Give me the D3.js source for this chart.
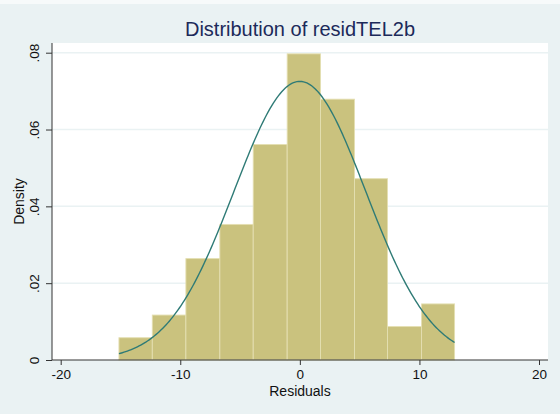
<!DOCTYPE html>
<html>
<head>
<meta charset="utf-8">
<script src="https://cdn.jsdelivr.net/npm/d3@7"></script>
<style>
  html, body { margin: 0; padding: 0; background: #eaf2f3; }
  text { font-family: "Liberation Sans", Arial, sans-serif; }
</style>
</head>
<body>
<div id="chart"></div>
<script>
// Histogram bins
const binEdges = [-15.13, -12.34, -9.53, -6.69, -3.90, -1.06, 1.73, 4.57, 7.33, 10.18, 12.94];
const densities = [0.0058, 0.0117, 0.0264, 0.0353, 0.0561, 0.0797, 0.0679, 0.0472, 0.0087, 0.0146];

// Normal overlay (Stata "normal" option): mean and sd estimated from the curve
const normMean = 0;
const normSd = 5.5;

const xTicks = [-20, -10, 0, 10, 20];
const yTicks = [0, 0.02, 0.04, 0.06, 0.08];
const yTickLabels = ["0", ".02", ".04", ".06", ".08"];

const svgWidth = 560;
const svgHeight = 414;

// plot region
const plot = { l: 52, r: 548, t: 43, b: 360 };

const svg = d3.select("#chart")
    .append("svg")
    .attr("width", svgWidth)
    .attr("height", svgHeight);

// background
svg.append("rect").attr("width", svgWidth).attr("height", svgHeight).attr("fill", "#eaf2f3");
svg.append("rect").attr("width", svgWidth).attr("height", 4).attr("fill", "#f7fafa");
svg.append("rect")
    .attr("x", plot.l).attr("y", plot.t)
    .attr("width", plot.r - plot.l).attr("height", plot.b - plot.t)
    .attr("fill", "#ffffff");

const x = d3.scaleLinear().domain([-20, 20]).range([60.7, 539]);
const y = d3.scaleLinear().domain([0, 0.08]).range([plot.b, 52.7]);

// gridlines
svg.append("g")
    .selectAll("line")
    .data(yTicks.slice(1))
    .join("line")
    .attr("x1", plot.l).attr("x2", plot.r)
    .attr("y1", d => y(d)).attr("y2", d => y(d))
    .attr("stroke", "#eaf2f3")
    .attr("stroke-width", 1.5);

// bars
const bins = densities.map((d, i) => ({ x0: binEdges[i], x1: binEdges[i + 1], d: d }));
svg.append("g")
    .selectAll("rect")
    .data(bins)
    .join("rect")
    .attr("x", d => x(d.x0))
    .attr("y", d => y(d.d))
    .attr("width", d => x(d.x1) - x(d.x0))
    .attr("height", d => y(0) - y(d.d))
    .attr("fill", "#cac27e")
    .attr("stroke", "#e4dfb2")
    .attr("stroke-width", 0.9);

// normal density curve
const pdf = v => Math.exp(-0.5 * ((v - normMean) / normSd) ** 2) / (normSd * Math.sqrt(2 * Math.PI));
const xs = d3.range(0, 201).map(i => binEdges[0] + (binEdges[binEdges.length - 1] - binEdges[0]) * i / 200);
svg.append("path")
    .datum(xs)
    .attr("fill", "none")
    .attr("stroke", "#2f7b76")
    .attr("stroke-width", 1.4)
    .attr("d", d3.line().x(d => x(d)).y(d => y(pdf(d))));

// axes
const xAxis = svg.append("g")
    .attr("transform", `translate(0,${plot.b})`)
    .call(d3.axisBottom(x).tickValues(xTicks).tickSize(5).tickPadding(4).tickFormat(d3.format("d")));
xAxis.select(".domain").attr("d", `M${plot.l},0H${plot.r}`).attr("stroke", "#333");
xAxis.selectAll(".tick line").attr("stroke", "#333");
xAxis.selectAll(".tick text")
    .attr("font-size", 13.5)
    .attr("fill", "#111")
    .attr("font-family", "Liberation Sans, Arial, sans-serif")
    .text(d => d < 0 ? "-" + Math.abs(d) : d);

const yAxis = svg.append("g")
    .attr("transform", `translate(${plot.l},0)`)
    .call(d3.axisLeft(y).tickValues(yTicks).tickSize(6).tickFormat((d, i) => yTickLabels[i]));
yAxis.select(".domain").attr("d", `M0,${plot.t}V${plot.b}`).attr("stroke", "#333");
yAxis.selectAll(".tick line").attr("stroke", "#333");
yAxis.selectAll(".tick text")
    .attr("font-size", 13.5)
    .attr("fill", "#111")
    .attr("font-family", "Liberation Sans, Arial, sans-serif")
    .attr("x", null)
    .attr("text-anchor", "middle")
    .attr("transform", "translate(-18,0) rotate(-90)")
    .attr("dy", "0.35em");

// titles
svg.append("text")
    .attr("x", 300).attr("y", 36)
    .attr("text-anchor", "middle")
    .attr("font-size", 20)
    .attr("fill", "#1c2a5a")
    .text("Distribution of residTEL2b");

svg.append("text")
    .attr("x", 300).attr("y", 396)
    .attr("text-anchor", "middle")
    .attr("font-size", 14)
    .attr("fill", "#111")
    .text("Residuals");

svg.append("text")
    .attr("transform", "translate(24,201.5) rotate(-90)")
    .attr("text-anchor", "middle")
    .attr("font-size", 14)
    .attr("fill", "#111")
    .text("Density");
</script>
</body>
</html>
